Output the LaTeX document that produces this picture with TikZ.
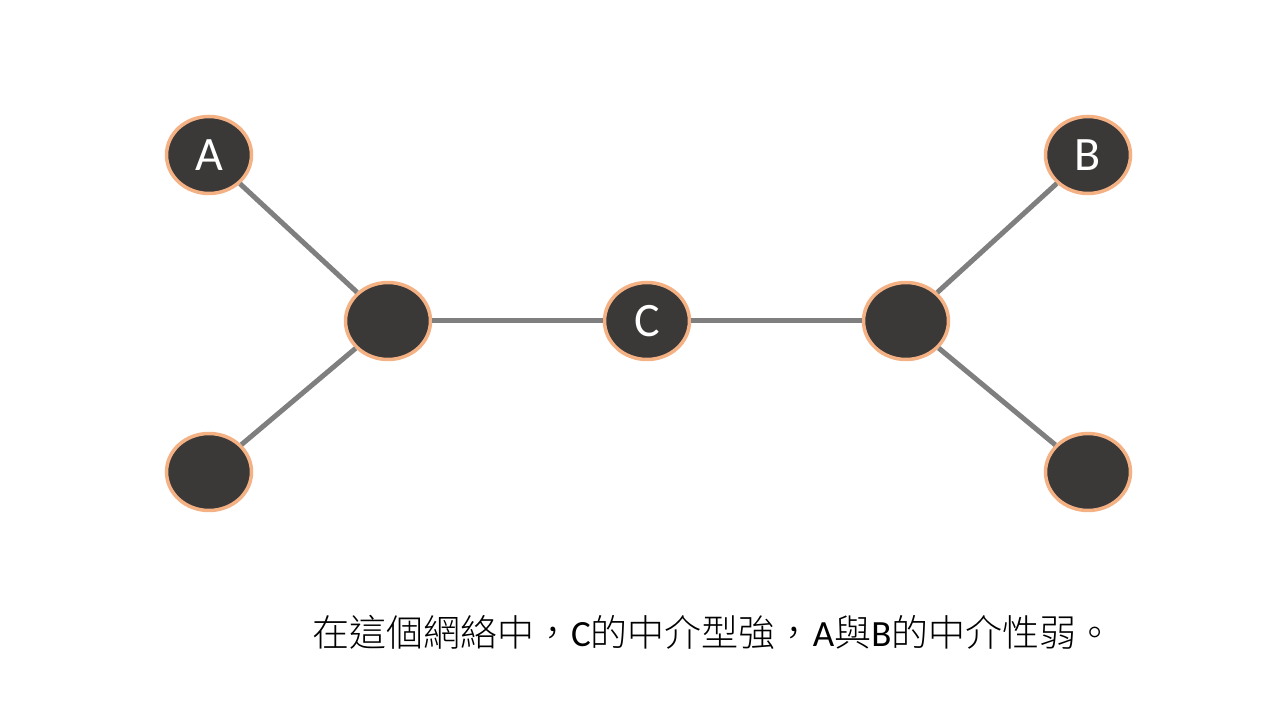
\documentclass[tikz,border=0pt]{standalone}
\usepackage{fontspec}
\setmainfont{Carlito}
\newfontfamily\cjk{Noto Sans CJK TC Light}
\newfontfamily\lat{Carlito}
\usetikzlibrary{shapes.geometric}
\definecolor{nodefill}{HTML}{3B3838}
\definecolor{nodeborder}{HTML}{F4B183}
\definecolor{edgegray}{HTML}{7F7F7F}
\begin{document}
\begin{tikzpicture}[x=1pt,y=1pt,
  vert/.style={ellipse,draw=nodeborder,fill=nodefill,line width=3.5pt,
    minimum width=85pt,minimum height=77pt,inner sep=0pt,
    text=white,font=\lat\fontsize{48}{48}\selectfont},
  link/.style={draw=edgegray,line width=5pt}]
\useasboundingbox[fill=white] (0,0) rectangle (1280,720);
\node[vert] (a) at (209,565) {A};
\node[vert] (l) at (388,399) {};
\node[vert] (c) at (647,399) {C};
\node[vert] (r) at (906,399) {};
\node[vert] (b) at (1088,565) {B};
\node[vert] (bl) at (209,248) {};
\node[vert] (br) at (1088,248) {};
\path[link] (a) -- (l);
\path[link] (bl) -- (l);
\path[link] (l) -- (c);
\path[link] (c) -- (r);
\path[link] (r) -- (b);
\path[link] (r) -- (br);
\node[anchor=west,inner sep=0pt,font=\cjk\fontsize{37}{37}\selectfont] (cap) at (312,88)
  {在這個網絡中，{\lat C}的中介型強，{\lat A}與{\lat B}的中介性弱。};
\end{tikzpicture}
\end{document}
